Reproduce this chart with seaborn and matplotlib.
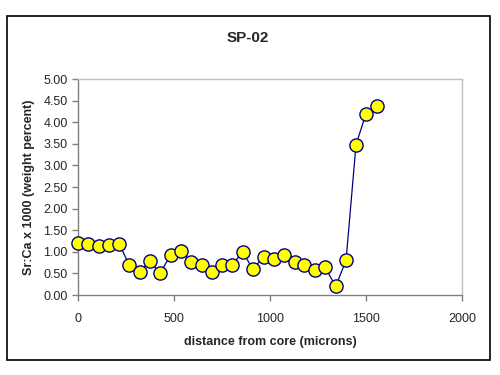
import numpy as np
import pandas as pd
import matplotlib
matplotlib.use("Agg")
import matplotlib.pyplot as plt
from matplotlib.patches import Rectangle
import seaborn as sns

sns.set_style("white")
plt.rcParams['font.family'] = ['Liberation Sans', 'DejaVu Sans']

distance = [0, 54, 109, 161, 215, 267, 323, 373, 427, 483,
            536, 590, 646, 696, 752, 804, 858, 910, 969, 1022,
            1073, 1129, 1179, 1236, 1286, 1342, 1396, 1448, 1500, 1557]
srca = [1.20, 1.17, 1.14, 1.15, 1.18, 0.69, 0.54, 0.79, 0.50, 0.93,
        1.02, 0.77, 0.69, 0.54, 0.70, 0.70, 1.00, 0.60, 0.89, 0.83,
        0.92, 0.76, 0.69, 0.59, 0.65, 0.20, 0.80, 3.48, 4.20, 4.37]
xticks = [0, 500, 1000, 1500, 2000]
yticks = [0, 0.5, 1.0, 1.5, 2.0, 2.5, 3.0, 3.5, 4.0, 4.5, 5.0]

df = pd.DataFrame({'distance': distance, 'srca': srca})

fig = plt.figure(figsize=(5, 3.75), dpi=100)
ax = fig.add_axes([0.156, 0.2133, 0.768, 0.576])

sns.lineplot(x='distance', y='srca', data=df, ax=ax, color='#000080',
             linewidth=0.9, marker='o', markersize=9.5,
             markerfacecolor='#ffff00', markeredgecolor='#000080',
             markeredgewidth=1.0, clip_on=False, zorder=5)

ax.set_xlim(0, 2000)
ax.set_ylim(0, 5)
ax.set_xticks(xticks)
ax.set_yticks(yticks)
ax.set_yticklabels(['%.2f' % v for v in yticks])
ax.tick_params(axis='both', labelsize=9, length=4, width=1, color='#808080',
               direction='out', left=True, bottom=True)
ax.tick_params(axis='x', pad=9)
for s in ax.spines.values():
    s.set_color('#808080')
    s.set_linewidth(1.0)
ax.spines['top'].set_color('#c0c0c0')
ax.spines['right'].set_color('#c0c0c0')

ax.set_xlabel('distance from core (microns)', fontsize=9, fontweight='bold', labelpad=8)
ax.set_ylabel('Sr:Ca x 1000 (weight percent)', fontsize=9, fontweight='bold', labelpad=6)
fig.text(0.496, 0.9, 'SP-02', ha='center', va='center', fontsize=11, fontweight='bold')

fig.patches.append(Rectangle((0.014, 0.04), 0.966, 0.917, transform=fig.transFigure,
                             fill=False, edgecolor='black', linewidth=1.2))

plt.savefig('out.png', dpi=100)
